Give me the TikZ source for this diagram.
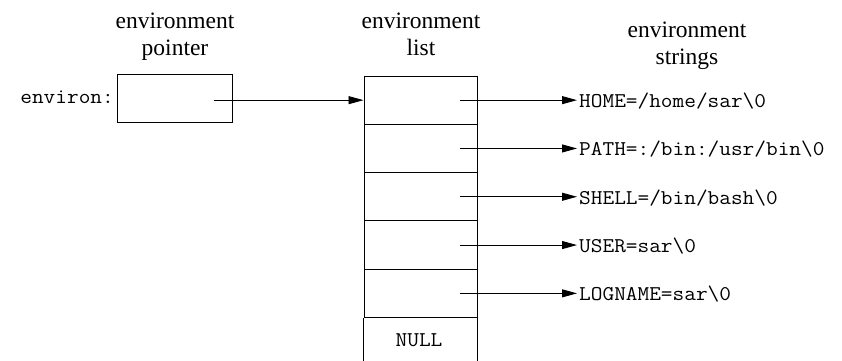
\documentclass[tikz,border=0pt]{standalone}
\usepackage{fontspec}
\setmainfont{Liberation Serif}
\newfontfamily\codefont[FakeStretch=1.08]{Latin Modern Mono}
\usetikzlibrary{arrows.meta}
\begin{document}
\begin{tikzpicture}[x=1pt,y=-1pt,
  hdr/.style={font=\fontsize{23.5}{27}\selectfont, align=center, inner sep=0pt},
  code/.style={font=\codefont\fontsize{21}{24}\selectfont, inner ysep=0pt, inner xsep=2pt},
  cell/.style={draw, line width=1pt, minimum width=113pt, minimum height=48.3pt, inner sep=0pt},
  ptrbox/.style={draw, line width=1pt, minimum width=115pt, minimum height=48pt, inner sep=0pt},
  link/.style={line width=0.9pt, -{Triangle[length=15pt,width=8pt]}}]
\useasboundingbox (0,0) rectangle (842,360);

% headers
\node[hdr, anchor=base] (h1) at (175,55) {environment\\pointer};
\node[hdr, anchor=base] (h2) at (421,55) {environment\\list};
\node[hdr, anchor=base] (h3) at (687,64) {environment\\strings};

% pointer
\node[ptrbox] (ptr) at (174.5,98.5) {};
\node[code, anchor=base east] (lbl) at (116,103) {environ:};

% list
\node[cell] (c1) at (420.5,100.15) {};
\node[cell] (c2) at (420.5,148.45) {};
\node[cell] (c3) at (420.5,196.75) {};
\node[cell] (c4) at (420.5,245.05) {};
\node[cell] (c5) at (420.5,293.35) {};
\node[code, anchor=base] (null) at (419,346) {NULL};
\draw[line width=1pt] (c5.south west) -- ++(0,48);
\draw[line width=1pt] (c5.south east) -- ++(0,48);

% strings
\node[code, anchor=base west] (s1) at (577,107.5) {HOME=/home/sar\textbackslash 0};
\node[code, anchor=base west] (s2) at (577,155.8) {PATH=:/bin:/usr/bin\textbackslash 0};
\node[code, anchor=base west] (s3) at (577,204.1) {SHELL=/bin/bash\textbackslash 0};
\node[code, anchor=base west] (s4) at (577,252.4) {USER=sar\textbackslash 0};
\node[code, anchor=base west] (s5) at (577,300.7) {LOGNAME=sar\textbackslash 0};

% arrows
\coordinate (pa) at ([xshift=-19pt]ptr.east);
\draw[link] (pa |- c1.west) -- (c1.west);
\draw[link] ([xshift=-18pt]c1.east) -- (s1.west |- c1.east);
\draw[link] ([xshift=-18pt]c2.east) -- (s2.west |- c2.east);
\draw[link] ([xshift=-18pt]c3.east) -- (s3.west |- c3.east);
\draw[link] ([xshift=-18pt]c4.east) -- (s4.west |- c4.east);
\draw[link] ([xshift=-18pt]c5.east) -- (s5.west |- c5.east);
\end{tikzpicture}
\end{document}
